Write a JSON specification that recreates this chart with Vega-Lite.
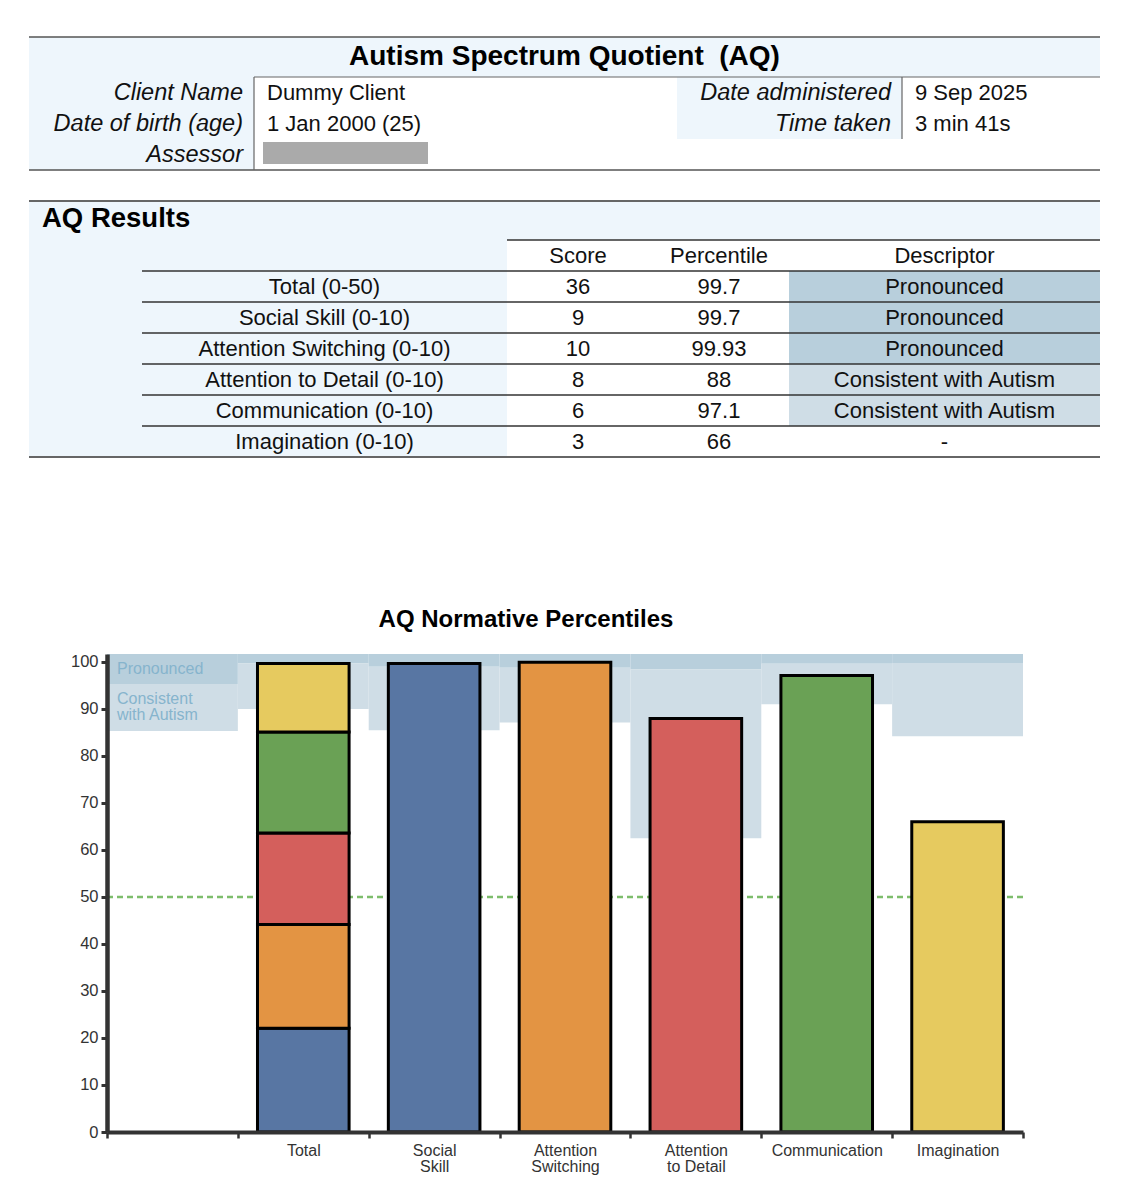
{
  "$schema": "https://vega.github.io/schema/vega-lite/v6.json",
  "padding": {"left": 28, "top": 36, "right": 10, "bottom": 5},
  "background": "white",
  "spacing": 29,
  "config": {"font": "Liberation Sans", "view": {"stroke": null}},
  "datasets": {
    "client": [
      {"label": "Client Name", "value": "Dummy Client", "col": 1, "row": 1},
      {"label": "Date of birth (age)", "value": "1 Jan 2000 (25)", "col": 1, "row": 2},
      {"label": "Assessor", "value": "", "col": 1, "row": 3},
      {"label": "Date administered", "value": "9 Sep 2025", "col": 3, "row": 1},
      {"label": "Time taken", "value": "3 min 41s", "col": 3, "row": 2}
    ],
    "results": [
      {"component": "Total (0-50)", "short": "Total", "score": 36, "percentile": 99.7, "descriptor": "Pronounced"},
      {"component": "Social Skill (0-10)", "short": "Social Skill", "score": 9, "percentile": 99.7, "descriptor": "Pronounced"},
      {"component": "Attention Switching (0-10)", "short": "Attention Switching", "score": 10, "percentile": 99.93, "descriptor": "Pronounced"},
      {"component": "Attention to Detail (0-10)", "short": "Attention to Detail", "score": 8, "percentile": 88, "descriptor": "Consistent with Autism"},
      {"component": "Communication (0-10)", "short": "Communication", "score": 6, "percentile": 97.1, "descriptor": "Consistent with Autism"},
      {"component": "Imagination (0-10)", "short": "Imagination", "score": 3, "percentile": 66, "descriptor": "-"}
    ],
    "totalParts": [
      {"slot": "Total", "short": "Social Skill", "share": 22.05, "rank": 1},
      {"slot": "Total", "short": "Attention Switching", "share": 22.1, "rank": 2},
      {"slot": "Total", "short": "Attention to Detail", "share": 19.47, "rank": 3},
      {"slot": "Total", "short": "Communication", "share": 21.48, "rank": 4},
      {"slot": "Total", "short": "Imagination", "share": 14.6, "rank": 5}
    ],
    "bands": [
      {"slot": " ", "level": "Pronounced", "lo": 95.3, "hi": 101.7},
      {"slot": " ", "level": "Consistent", "lo": 85.3, "hi": 95.3},
      {"slot": "Total", "level": "Pronounced", "lo": 99.7, "hi": 101.7},
      {"slot": "Total", "level": "Consistent", "lo": 90.0, "hi": 99.7},
      {"slot": "Social Skill", "level": "Pronounced", "lo": 99.0, "hi": 101.7},
      {"slot": "Social Skill", "level": "Consistent", "lo": 85.5, "hi": 99.0},
      {"slot": "Attention Switching", "level": "Pronounced", "lo": 98.8, "hi": 101.7},
      {"slot": "Attention Switching", "level": "Consistent", "lo": 87.1, "hi": 98.8},
      {"slot": "Attention to Detail", "level": "Pronounced", "lo": 98.4, "hi": 101.7},
      {"slot": "Attention to Detail", "level": "Consistent", "lo": 62.5, "hi": 98.4},
      {"slot": "Communication", "level": "Pronounced", "lo": 99.6, "hi": 101.7},
      {"slot": "Communication", "level": "Consistent", "lo": 91.0, "hi": 99.6},
      {"slot": "Imagination", "level": "Pronounced", "lo": 99.8, "hi": 101.7},
      {"slot": "Imagination", "level": "Consistent", "lo": 84.2, "hi": 99.8}
    ],
    "bandLabels": [
      {"slot": " ", "label": "Pronounced", "top": 101.7},
      {"slot": " ", "label": ["Consistent", "with Autism"], "top": 95.3}
    ],
    "reference": [
      {"from": " ", "to": "Imagination", "at": 50}
    ]
  },
  "vconcat": [
    {
      "width": 1071,
      "height": 133,
      "title": {"text": "Autism Spectrum Quotient \u00a0(AQ)", "fontSize": 28, "fontWeight": "bold", "color": "#000", "anchor": "middle", "frame": "group", "offset": -35},
      "data": {"name": "client"},
      "layer": [
        {"data": {"values": [{}]}, "mark": {"type": "rect", "color": "#eef6fc"},
         "encoding": {"x": {"datum": 0, "type": "quantitative", "scale": {"domain": [0,1,2,3,4], "range": [0,225,648,873,1071], "nice": false, "zero": false}, "axis": null}, "x2": {"datum": 4},
                      "y": {"datum": 0, "type": "quantitative", "scale": {"domain": [0,1,2,3,4], "range": [0,40,71,102,133], "nice": false, "zero": false}, "axis": null}, "y2": {"datum": 1}}},
        {"data": {"values": [{}]}, "mark": {"type": "rect", "color": "#eef6fc"},
         "encoding": {"x": {"datum": 0, "type": "quantitative", "scale": {"domain": [0,1,2,3,4], "range": [0,225,648,873,1071], "nice": false, "zero": false}, "axis": null}, "x2": {"datum": 1},
                      "y": {"datum": 1, "type": "quantitative", "scale": {"domain": [0,1,2,3,4], "range": [0,40,71,102,133], "nice": false, "zero": false}, "axis": null}, "y2": {"datum": 4}}},
        {"data": {"values": [{}]}, "mark": {"type": "rect", "color": "#eef6fc"},
         "encoding": {"x": {"datum": 2, "type": "quantitative", "scale": {"domain": [0,1,2,3,4], "range": [0,225,648,873,1071], "nice": false, "zero": false}, "axis": null}, "x2": {"datum": 3},
                      "y": {"datum": 1, "type": "quantitative", "scale": {"domain": [0,1,2,3,4], "range": [0,40,71,102,133], "nice": false, "zero": false}, "axis": null}, "y2": {"datum": 3}}},
        {"transform": [{"filter": "datum.label == 'Assessor'"}],
         "mark": {"type": "rect", "color": "#aaaaaa", "xOffset": 9, "x2Offset": 174, "yOffset": 3, "y2Offset": 25},
         "encoding": {"x": {"field": "col", "type": "quantitative", "scale": {"domain": [0,1,2,3,4], "range": [0,225,648,873,1071], "nice": false, "zero": false}, "axis": null}, "x2": {"field": "col"},
                      "y": {"field": "row", "type": "quantitative", "scale": {"domain": [0,1,2,3,4], "range": [0,40,71,102,133], "nice": false, "zero": false}, "axis": null}, "y2": {"field": "row"}}},
        {"data": {"values": [{}]}, "mark": {"type": "rule", "color": "#555", "strokeWidth": 1.5},
         "encoding": {"x": {"datum": 0, "type": "quantitative", "scale": {"domain": [0,1,2,3,4], "range": [0,225,648,873,1071], "nice": false, "zero": false}, "axis": null}, "x2": {"datum": 4},
                      "y": {"datum": 0, "type": "quantitative", "scale": {"domain": [0,1,2,3,4], "range": [0,40,71,102,133], "nice": false, "zero": false}, "axis": null}}},
        {"data": {"values": [{}]}, "mark": {"type": "rule", "color": "#555", "strokeWidth": 1.5},
         "encoding": {"x": {"datum": 0, "type": "quantitative", "scale": {"domain": [0,1,2,3,4], "range": [0,225,648,873,1071], "nice": false, "zero": false}, "axis": null}, "x2": {"datum": 4},
                      "y": {"datum": 4, "type": "quantitative", "scale": {"domain": [0,1,2,3,4], "range": [0,40,71,102,133], "nice": false, "zero": false}, "axis": null}}},
        {"data": {"values": [{}]}, "mark": {"type": "rule", "color": "#666", "strokeWidth": 1.2},
         "encoding": {"x": {"datum": 1, "type": "quantitative", "scale": {"domain": [0,1,2,3,4], "range": [0,225,648,873,1071], "nice": false, "zero": false}, "axis": null}, "x2": {"datum": 4},
                      "y": {"datum": 1, "type": "quantitative", "scale": {"domain": [0,1,2,3,4], "range": [0,40,71,102,133], "nice": false, "zero": false}, "axis": null}}},
        {"data": {"values": [{}]}, "mark": {"type": "rule", "color": "#666", "strokeWidth": 1.2},
         "encoding": {"x": {"datum": 1, "type": "quantitative", "scale": {"domain": [0,1,2,3,4], "range": [0,225,648,873,1071], "nice": false, "zero": false}, "axis": null},
                      "y": {"datum": 1, "type": "quantitative", "scale": {"domain": [0,1,2,3,4], "range": [0,40,71,102,133], "nice": false, "zero": false}, "axis": null}, "y2": {"datum": 4}}},
        {"data": {"values": [{}]}, "mark": {"type": "rule", "color": "#666", "strokeWidth": 1.2},
         "encoding": {"x": {"datum": 3, "type": "quantitative", "scale": {"domain": [0,1,2,3,4], "range": [0,225,648,873,1071], "nice": false, "zero": false}, "axis": null},
                      "y": {"datum": 1, "type": "quantitative", "scale": {"domain": [0,1,2,3,4], "range": [0,40,71,102,133], "nice": false, "zero": false}, "axis": null}, "y2": {"datum": 3}}},
        {"mark": {"type": "text", "align": "right", "baseline": "middle", "dx": -11, "dy": 15.5, "fontSize": 23.5, "letterSpacing": 1.1, "fontStyle": "italic", "color": "#111"},
         "encoding": {"x": {"field": "col", "type": "quantitative", "scale": {"domain": [0,1,2,3,4], "range": [0,225,648,873,1071], "nice": false, "zero": false}, "axis": null},
                      "y": {"field": "row", "type": "quantitative", "scale": {"domain": [0,1,2,3,4], "range": [0,40,71,102,133], "nice": false, "zero": false}, "axis": null},
                      "text": {"field": "label"}}},
        {"mark": {"type": "text", "align": "left", "baseline": "middle", "dx": 13, "dy": 15.5, "fontSize": 22, "color": "#111"},
         "encoding": {"x": {"field": "col", "type": "quantitative", "scale": {"domain": [0,1,2,3,4], "range": [0,225,648,873,1071], "nice": false, "zero": false}, "axis": null},
                      "y": {"field": "row", "type": "quantitative", "scale": {"domain": [0,1,2,3,4], "range": [0,40,71,102,133], "nice": false, "zero": false}, "axis": null},
                      "text": {"field": "value"}}}
      ]
    },
    {
      "width": 1071,
      "height": 377,
      "data": {"name": "results"},
      "resolve": {"scale": {"y": "independent", "color": "independent"}},
      "layer": [
        {"data": {"values": [{}]}, "mark": {"type": "rect", "color": "#eef6fc"},
         "encoding": {"x": {"datum": 0, "type": "quantitative", "scale": {"domain": [0,1,2,3,4,5], "range": [0,113,478,620,760,1071], "nice": false, "zero": false}, "axis": null}, "x2": {"datum": 5},
                      "y": {"datum": 0, "type": "quantitative", "scale": {"domain": [0,1,2,8], "range": [0,39,70,256], "nice": false, "zero": false}, "axis": null}, "y2": {"datum": 1}}},
        {"data": {"values": [{}]}, "mark": {"type": "rect", "color": "#eef6fc"},
         "encoding": {"x": {"datum": 0, "type": "quantitative", "scale": {"domain": [0,1,2,3,4,5], "range": [0,113,478,620,760,1071], "nice": false, "zero": false}, "axis": null}, "x2": {"datum": 2},
                      "y": {"datum": 1, "type": "quantitative", "scale": {"domain": [0,1,2,8], "range": [0,39,70,256], "nice": false, "zero": false}, "axis": null}, "y2": {"datum": 8}}},
        {"mark": {"type": "rect"},
         "encoding": {"x": {"datum": 4, "type": "quantitative", "scale": {"domain": [0,1,2,3,4,5], "range": [0,113,478,620,760,1071], "nice": false, "zero": false}, "axis": null}, "x2": {"datum": 5},
                      "y": {"field": "component", "type": "nominal", "sort": null, "scale": {"type": "band", "range": [70, 256], "paddingInner": 0, "paddingOuter": 0}, "axis": null},
                      "color": {"field": "descriptor", "type": "nominal", "scale": {"domain": ["Pronounced", "Consistent with Autism", "-"], "range": ["#b8cfdc", "#cfdde6", "#ffffff"]}, "legend": null}}},
        {"data": {"values": [{}]}, "mark": {"type": "rule", "color": "#666", "strokeWidth": 2},
         "encoding": {"x": {"datum": 0, "type": "quantitative", "scale": {"domain": [0,1,2,3,4,5], "range": [0,113,478,620,760,1071], "nice": false, "zero": false}, "axis": null}, "x2": {"datum": 5},
                      "y": {"datum": 0, "type": "quantitative", "scale": {"domain": [0,1,2,8], "range": [0,39,70,256], "nice": false, "zero": false}, "axis": null}}},
        {"data": {"values": [{}]}, "mark": {"type": "rule", "color": "#333", "strokeWidth": 1.5},
         "encoding": {"x": {"datum": 2, "type": "quantitative", "scale": {"domain": [0,1,2,3,4,5], "range": [0,113,478,620,760,1071], "nice": false, "zero": false}, "axis": null}, "x2": {"datum": 5},
                      "y": {"datum": 1, "type": "quantitative", "scale": {"domain": [0,1,2,8], "range": [0,39,70,256], "nice": false, "zero": false}, "axis": null}}},
        {"mark": {"type": "rule", "color": "#333", "strokeWidth": 1.5},
         "encoding": {"x": {"datum": 1, "type": "quantitative", "scale": {"domain": [0,1,2,3,4,5], "range": [0,113,478,620,760,1071], "nice": false, "zero": false}, "axis": null}, "x2": {"datum": 5},
                      "y": {"field": "component", "type": "nominal", "sort": null, "bandPosition": 0, "scale": {"type": "band", "range": [70, 256], "paddingInner": 0, "paddingOuter": 0}, "axis": null}}},
        {"data": {"values": [{}]}, "mark": {"type": "rule", "color": "#666", "strokeWidth": 2},
         "encoding": {"x": {"datum": 0, "type": "quantitative", "scale": {"domain": [0,1,2,3,4,5], "range": [0,113,478,620,760,1071], "nice": false, "zero": false}, "axis": null}, "x2": {"datum": 5},
                      "y": {"datum": 8, "type": "quantitative", "scale": {"domain": [0,1,2,8], "range": [0,39,70,256], "nice": false, "zero": false}, "axis": null}}},
        {"data": {"values": [{"t": "AQ Results"}]}, "mark": {"type": "text", "align": "left", "baseline": "middle", "dx": 13, "dy": -2, "fontSize": 27.5, "fontWeight": "bold", "color": "#000"},
         "encoding": {"x": {"datum": 0, "type": "quantitative", "scale": {"domain": [0,1,2,3,4,5], "range": [0,113,478,620,760,1071], "nice": false, "zero": false}, "axis": null},
                      "y": {"datum": 0.5, "type": "quantitative", "scale": {"domain": [0,1,2,8], "range": [0,39,70,256], "nice": false, "zero": false}, "axis": null},
                      "text": {"field": "t"}}},
        {"data": {"values": [{"h": "Score"}]}, "mark": {"type": "text", "align": "center", "baseline": "middle", "fontSize": 22, "color": "#111"},
         "encoding": {"x": {"datum": 2.5, "type": "quantitative", "scale": {"domain": [0,1,2,3,4,5], "range": [0,113,478,620,760,1071], "nice": false, "zero": false}, "axis": null},
                      "y": {"datum": 1.5, "type": "quantitative", "scale": {"domain": [0,1,2,8], "range": [0,39,70,256], "nice": false, "zero": false}, "axis": null},
                      "text": {"field": "h"}}},
        {"data": {"values": [{"h": "Percentile"}]}, "mark": {"type": "text", "align": "center", "baseline": "middle", "fontSize": 22, "color": "#111"},
         "encoding": {"x": {"datum": 3.5, "type": "quantitative", "scale": {"domain": [0,1,2,3,4,5], "range": [0,113,478,620,760,1071], "nice": false, "zero": false}, "axis": null},
                      "y": {"datum": 1.5, "type": "quantitative", "scale": {"domain": [0,1,2,8], "range": [0,39,70,256], "nice": false, "zero": false}, "axis": null},
                      "text": {"field": "h"}}},
        {"data": {"values": [{"h": "Descriptor"}]}, "mark": {"type": "text", "align": "center", "baseline": "middle", "fontSize": 22, "color": "#111"},
         "encoding": {"x": {"datum": 4.5, "type": "quantitative", "scale": {"domain": [0,1,2,3,4,5], "range": [0,113,478,620,760,1071], "nice": false, "zero": false}, "axis": null},
                      "y": {"datum": 1.5, "type": "quantitative", "scale": {"domain": [0,1,2,8], "range": [0,39,70,256], "nice": false, "zero": false}, "axis": null},
                      "text": {"field": "h"}}},
        {"mark": {"type": "text", "align": "center", "baseline": "middle", "fontSize": 22, "color": "#111"},
         "encoding": {"x": {"datum": 1.5, "type": "quantitative", "scale": {"domain": [0,1,2,3,4,5], "range": [0,113,478,620,760,1071], "nice": false, "zero": false}, "axis": null},
                      "y": {"field": "component", "type": "nominal", "sort": null, "scale": {"type": "band", "range": [70, 256], "paddingInner": 0, "paddingOuter": 0}, "axis": null},
                      "text": {"field": "component", "type": "nominal"}}},
        {"mark": {"type": "text", "align": "center", "baseline": "middle", "fontSize": 22, "color": "#111"},
         "encoding": {"x": {"datum": 2.5, "type": "quantitative", "scale": {"domain": [0,1,2,3,4,5], "range": [0,113,478,620,760,1071], "nice": false, "zero": false}, "axis": null},
                      "y": {"field": "component", "type": "nominal", "sort": null, "scale": {"type": "band", "range": [70, 256], "paddingInner": 0, "paddingOuter": 0}, "axis": null},
                      "text": {"field": "score", "type": "nominal"}}},
        {"mark": {"type": "text", "align": "center", "baseline": "middle", "fontSize": 22, "color": "#111"},
         "encoding": {"x": {"datum": 3.5, "type": "quantitative", "scale": {"domain": [0,1,2,3,4,5], "range": [0,113,478,620,760,1071], "nice": false, "zero": false}, "axis": null},
                      "y": {"field": "component", "type": "nominal", "sort": null, "scale": {"type": "band", "range": [70, 256], "paddingInner": 0, "paddingOuter": 0}, "axis": null},
                      "text": {"field": "percentile", "type": "nominal"}}},
        {"mark": {"type": "text", "align": "center", "baseline": "middle", "fontSize": 22, "color": "#111"},
         "encoding": {"x": {"datum": 4.5, "type": "quantitative", "scale": {"domain": [0,1,2,3,4,5], "range": [0,113,478,620,760,1071], "nice": false, "zero": false}, "axis": null},
                      "y": {"field": "component", "type": "nominal", "sort": null, "scale": {"type": "band", "range": [70, 256], "paddingInner": 0, "paddingOuter": 0}, "axis": null},
                      "text": {"field": "descriptor", "type": "nominal"}}}
      ]
    },
    {
      "width": 994,
      "height": 478,
      "title": {"text": "AQ Normative Percentiles", "fontSize": 24, "fontWeight": "bold", "color": "#000", "anchor": "middle", "frame": "group", "offset": 22},
      "layer": [
        {"data": {"name": "bands"}, "mark": {"type": "rect"},
         "encoding": {
           "x": {"field": "slot", "type": "nominal", "scale": {"type": "band", "domain": [" ", "Total", "Social Skill", "Attention Switching", "Attention to Detail", "Communication", "Imagination"], "range": [78, 994], "paddingInner": 0, "paddingOuter": 0},
                 "axis": {"title": null, "orient": "bottom", "zindex": 1, "tickBand": "extent", "labelAngle": 0, "labelFontSize": 16, "labelColor": "#333", "labelPadding": 4, "labelLineHeight": 16, "labelBaseline": "top",
                          "labelExpr": "datum.value == 'Social Skill' ? ['Social', 'Skill'] : datum.value == 'Attention Switching' ? ['Attention', 'Switching'] : datum.value == 'Attention to Detail' ? ['Attention', 'to Detail'] : datum.value == ' ' ? '' : datum.value",
                          "domainWidth": 4, "domainColor": "#333", "tickColor": "#333", "tickWidth": 2.5, "tickSize": 6}},
           "y": {"field": "lo", "type": "quantitative", "scale": {"domain": [0, 101.7], "nice": false, "zero": true},
                 "axis": {"title": null, "zindex": 1, "values": [0,10,20,30,40,50,60,70,80,90,100], "offset": -78, "grid": false, "labelFontSize": 16.5, "labelColor": "#333", "labelPadding": 3,
                          "domainWidth": 4.5, "domainColor": "#333", "tickColor": "#333", "tickWidth": 3, "tickSize": 6}},
           "y2": {"field": "hi"},
           "color": {"field": "level", "type": "nominal", "scale": {"domain": ["Pronounced", "Consistent"], "range": ["#b8cfdc", "#cfdde6"]}, "legend": null}
         }},
        {"data": {"name": "bandLabels"}, "mark": {"type": "text", "align": "left", "baseline": "top", "dx": 10, "dy": 7, "fontSize": 16, "lineHeight": 16, "color": "#86b4cd"},
         "encoding": {
           "x": {"field": "slot", "type": "nominal", "bandPosition": 0},
           "y": {"field": "top", "type": "quantitative"},
           "text": {"field": "label"}
         }},
        {"data": {"name": "reference"}, "mark": {"type": "rule", "color": "#7dbd6b", "strokeWidth": 2.5, "strokeDash": [6, 4]},
         "encoding": {
           "x": {"field": "from", "type": "nominal", "bandPosition": 0},
           "x2": {"field": "to", "bandPosition": 1},
           "y": {"field": "at", "type": "quantitative"}
         }},
        {"data": {"name": "results"}, "transform": [{"filter": "datum.short != 'Total'"}],
         "mark": {"type": "bar", "stroke": "#000", "strokeWidth": 3, "width": {"band": 0.7}},
         "encoding": {
           "x": {"field": "short", "type": "nominal"},
           "y": {"field": "percentile", "type": "quantitative"},
           "fill": {"field": "short", "type": "nominal", "scale": {"domain": ["Social Skill", "Attention Switching", "Attention to Detail", "Communication", "Imagination"], "range": ["#5876a3", "#e39443", "#d45f5c", "#6aa155", "#e6ca5f"]}, "legend": null}
         }},
        {"data": {"name": "totalParts"},
         "mark": {"type": "bar", "stroke": "#000", "strokeWidth": 3, "width": {"band": 0.7}},
         "encoding": {
           "x": {"field": "slot", "type": "nominal"},
           "y": {"field": "share", "type": "quantitative", "stack": "zero"},
           "order": {"field": "rank", "type": "quantitative"},
           "fill": {"field": "short", "type": "nominal", "legend": null}
         }}
      ]
    }
  ]
}
